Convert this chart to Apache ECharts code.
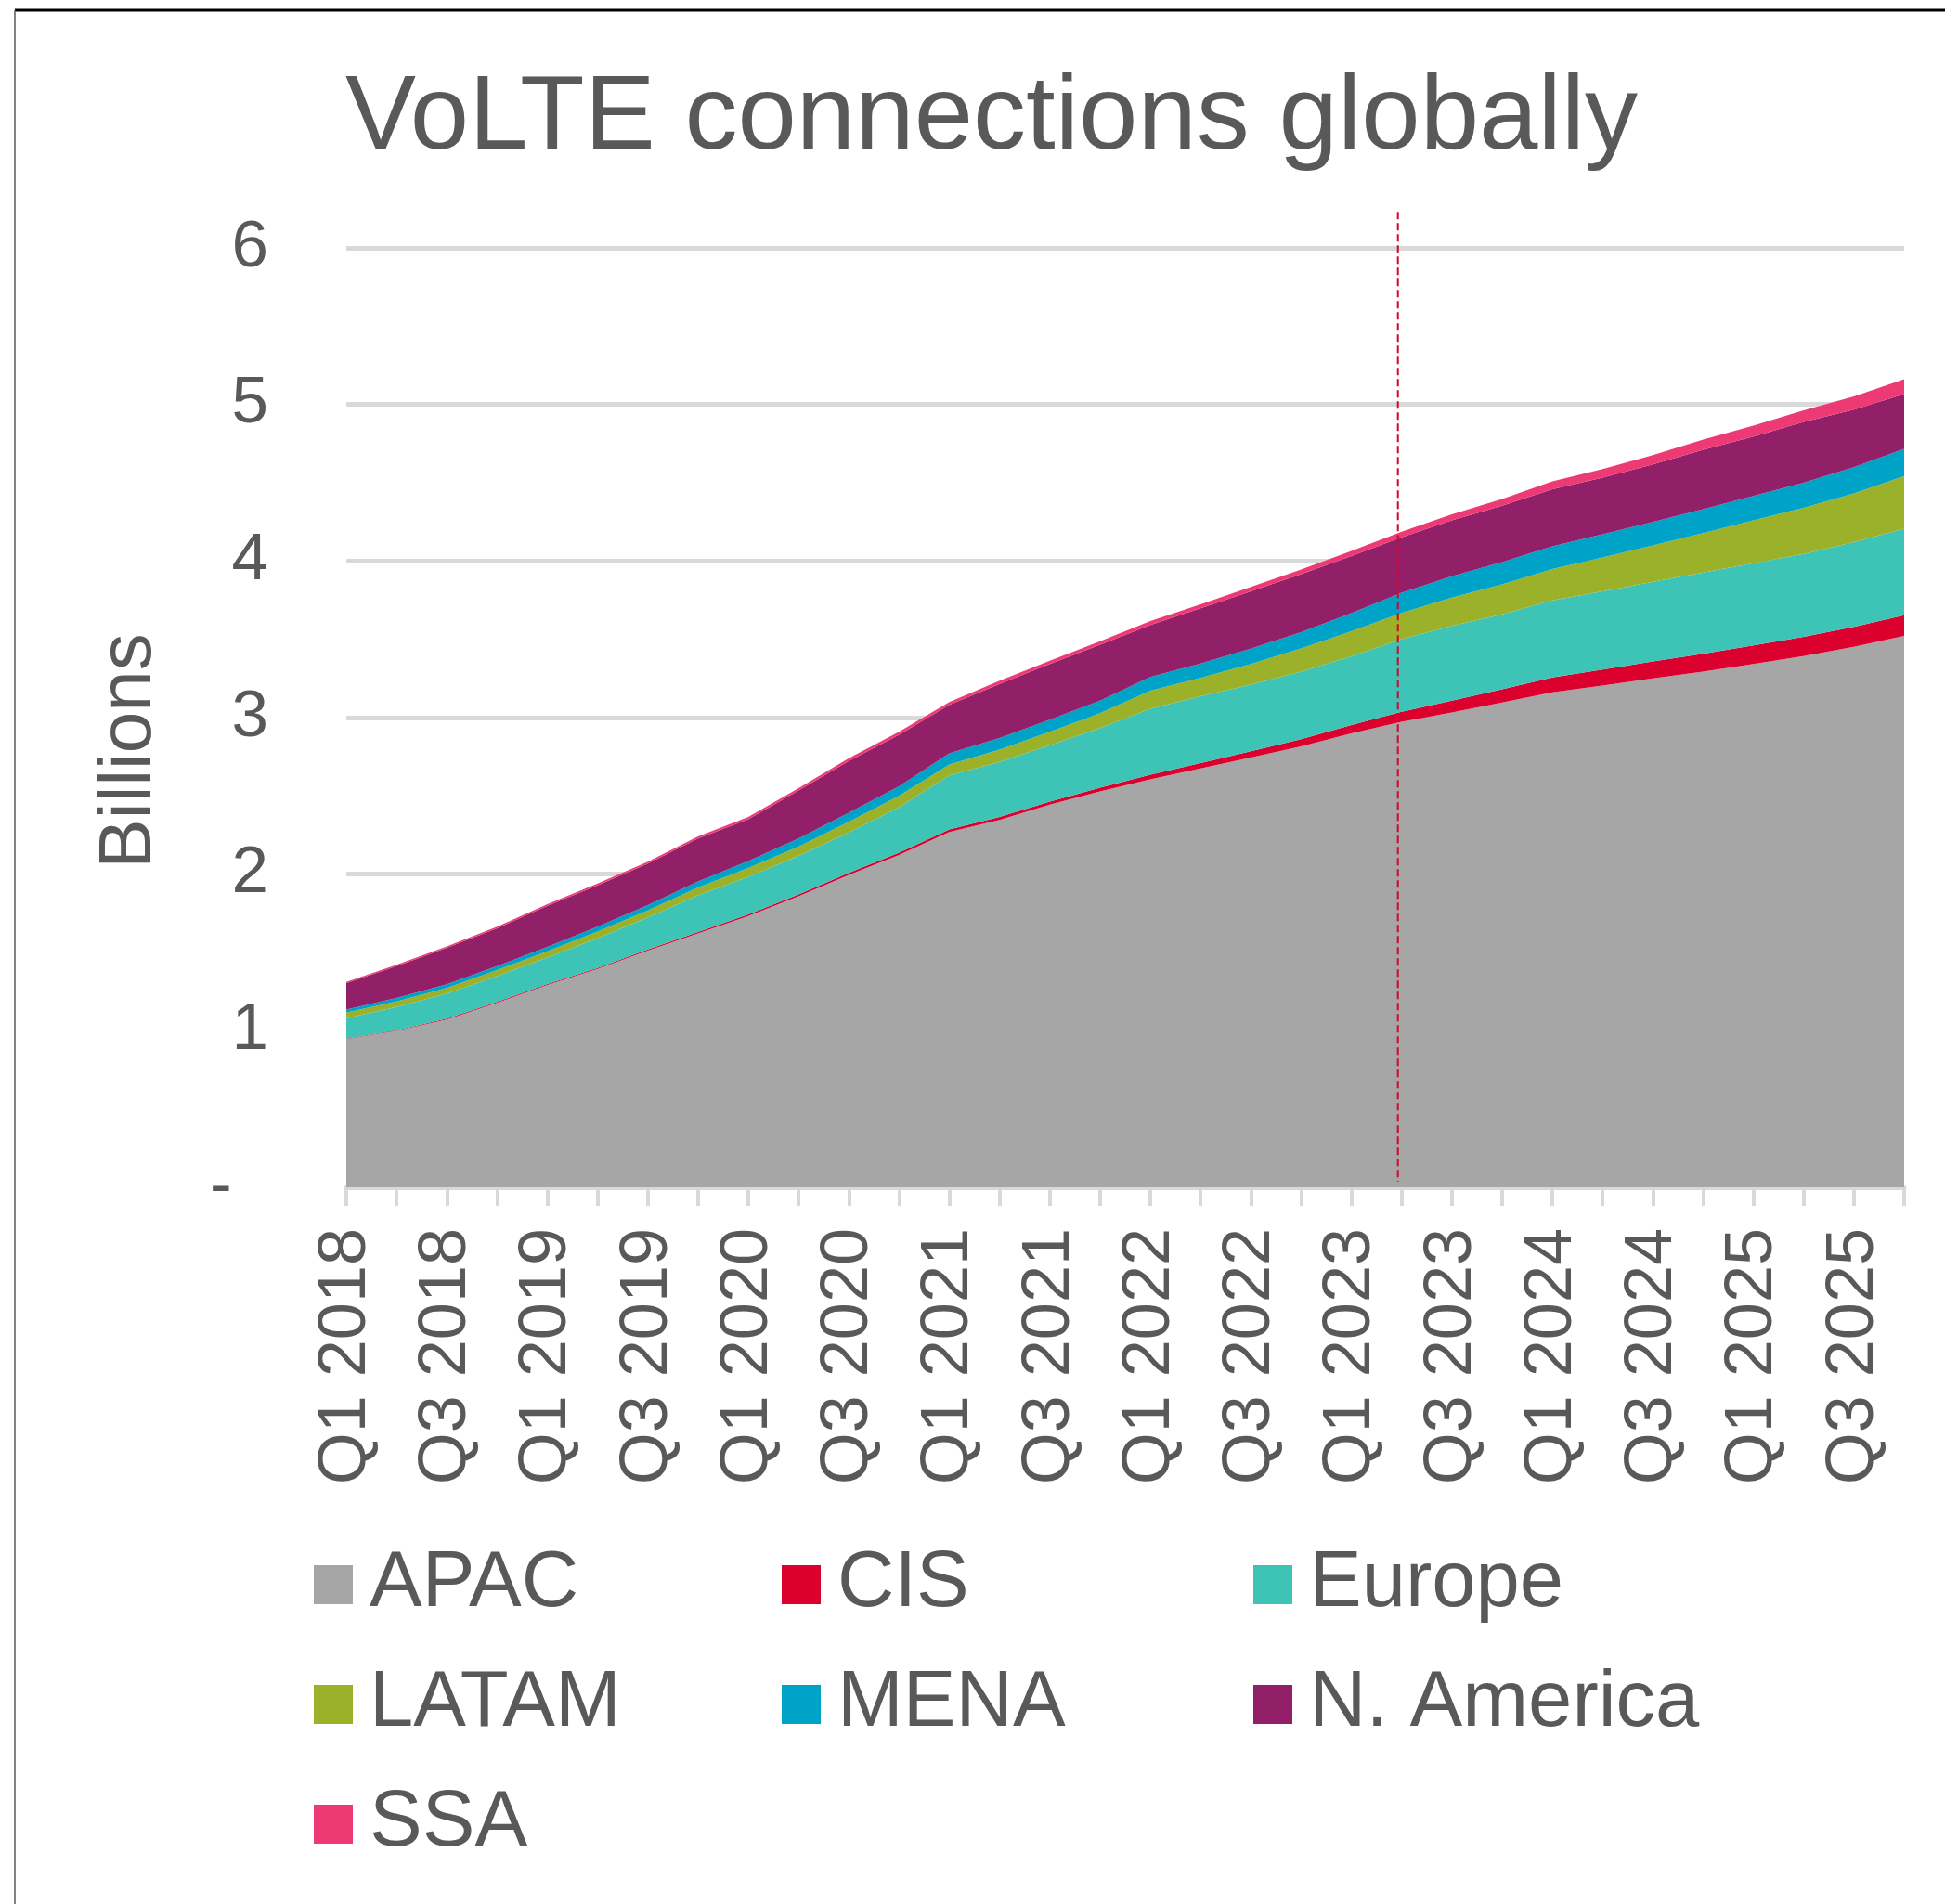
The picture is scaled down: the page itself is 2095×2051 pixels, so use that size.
<!DOCTYPE html>
<html>
<head>
<meta charset="utf-8">
<title>VoLTE connections globally</title>
<script src="https://cdn.jsdelivr.net/npm/echarts@6/dist/echarts.min.js"></script>
<style>
  html, body { margin: 0; padding: 0; background: #fff; }
  #main { width: 2095px; height: 2051px; }
</style>
</head>
<body>
<div id="main"></div>
<script>
const quarters = [
  'Q1 2018', 'Q2 2018', 'Q3 2018', 'Q4 2018', 'Q1 2019', 'Q2 2019', 'Q3 2019', 'Q4 2019',
  'Q1 2020', 'Q2 2020', 'Q3 2020', 'Q4 2020', 'Q1 2021', 'Q2 2021', 'Q3 2021', 'Q4 2021',
  'Q1 2022', 'Q2 2022', 'Q3 2022', 'Q4 2022', 'Q1 2023', 'Q2 2023', 'Q3 2023', 'Q4 2023',
  'Q1 2024', 'Q2 2024', 'Q3 2024', 'Q4 2024', 'Q1 2025', 'Q2 2025', 'Q3 2025', 'Q4 2025'
];

// billions of connections, per region
const apac = [0.947, 1.000, 1.072, 1.178, 1.292, 1.395, 1.512, 1.622, 1.733, 1.859, 1.995, 2.123, 2.270, 2.347, 2.444, 2.529,
  2.606, 2.675, 2.745, 2.816, 2.899, 2.974, 3.033, 3.096, 3.161, 3.205, 3.250, 3.294, 3.343, 3.393, 3.452, 3.521];
const cis = [0.003, 0.004, 0.005, 0.006, 0.006, 0.006, 0.007, 0.008, 0.010, 0.012, 0.014, 0.015, 0.016, 0.018, 0.020, 0.024,
  0.030, 0.035, 0.040, 0.046, 0.053, 0.063, 0.075, 0.085, 0.095, 0.102, 0.108, 0.113, 0.118, 0.123, 0.128, 0.132];
const europe = [0.131, 0.148, 0.160, 0.165, 0.170, 0.190, 0.205, 0.235, 0.240, 0.245, 0.257, 0.290, 0.345, 0.352, 0.360, 0.380,
  0.421, 0.426, 0.426, 0.432, 0.440, 0.464, 0.478, 0.478, 0.492, 0.500, 0.509, 0.519, 0.524, 0.529, 0.540, 0.554];
const latam = [0.035, 0.035, 0.036, 0.038, 0.040, 0.042, 0.045, 0.050, 0.056, 0.060, 0.068, 0.072, 0.070, 0.078, 0.085, 0.095,
  0.115, 0.118, 0.132, 0.148, 0.160, 0.168, 0.180, 0.192, 0.200, 0.216, 0.233, 0.253, 0.275, 0.295, 0.312, 0.336];
const mena = [0.020, 0.022, 0.024, 0.026, 0.028, 0.031, 0.034, 0.038, 0.045, 0.052, 0.058, 0.062, 0.070, 0.075, 0.078, 0.080,
  0.087, 0.092, 0.097, 0.103, 0.115, 0.128, 0.137, 0.142, 0.146, 0.148, 0.150, 0.152, 0.155, 0.160, 0.167, 0.173];
const nAmerica = [0.168, 0.204, 0.233, 0.241, 0.262, 0.265, 0.264, 0.275, 0.267, 0.306, 0.331, 0.329, 0.310, 0.345, 0.355, 0.357,
  0.333, 0.352, 0.367, 0.371, 0.365, 0.355, 0.357, 0.361, 0.365, 0.362, 0.367, 0.380, 0.380, 0.388, 0.368, 0.350];
const ssa = [0.008, 0.008, 0.009, 0.010, 0.010, 0.011, 0.012, 0.013, 0.014, 0.016, 0.017, 0.018, 0.019, 0.020, 0.021, 0.022,
  0.025, 0.026, 0.028, 0.030, 0.032, 0.035, 0.038, 0.042, 0.050, 0.055, 0.060, 0.065, 0.070, 0.075, 0.085, 0.095];

const regionNames = ['APAC', 'CIS', 'Europe', 'LATAM', 'MENA', 'N. America', 'SSA'];
const regionValues = [apac, cis, europe, latam, mena, nAmerica, ssa];
const regionColors = ['#a6a6a6', '#dc002e', '#3ec3b7', '#9cb12a', '#00a3c8', '#912068', '#ee3a74'];
const legendColumns = [['APAC', 'LATAM', 'SSA'], ['CIS', 'MENA'], ['Europe', 'N. America']];
const forecastStart = 'Q2 2023';

const font = 'Liberation Sans, Arial, sans-serif';
const textGrey = '#595959';
const lineGrey = '#d9d9d9';

const chart = echarts.init(document.getElementById('main'));

chart.setOption({
  backgroundColor: '#fff',
  animation: false,
  title: {
    text: 'VoLTE connections globally',
    left: 372,
    top: 72,
    padding: 0,
    textStyle: { fontFamily: font, fontSize: 114, fontWeight: 'normal', color: textGrey }
  },
  legend: legendColumns.map((names, k) => ({
    data: names,
    orient: 'vertical',
    left: [338, 842, 1350][k],
    top: 1662,
    padding: 0,
    itemGap: 39,
    itemWidth: 42,
    itemHeight: 42,
    icon: 'rect',
    selectedMode: false,
    itemStyle: { borderWidth: 0 },
    textStyle: { fontFamily: font, fontSize: 85, color: textGrey, lineHeight: 90, padding: [0, 0, 0, 13] }
  })),
  grid: { left: 373, right: 44, top: 267, bottom: 772, containLabel: false },
  xAxis: {
    type: 'category',
    data: quarters,
    boundaryGap: false,
    axisLine: { lineStyle: { color: lineGrey, width: 5 } },
    axisTick: { interval: 0, length: 20, lineStyle: { color: lineGrey, width: 4 } },
    axisLabel: {
      interval: 1,
      rotate: 90,
      margin: 44,
      fontFamily: font,
      fontSize: 72,
      color: textGrey
    }
  },
  yAxis: {
    type: 'value',
    min: 0,
    max: 6,
    interval: 1,
    name: 'Billions',
    nameLocation: 'middle',
    nameRotate: 90,
    nameGap: 193,
    nameTextStyle: { fontFamily: font, fontSize: 80, color: textGrey, padding: [0, 72, 0, 0] },
    axisLine: { show: false },
    axisTick: { show: false },
    splitLine: { lineStyle: { color: lineGrey, width: 5 } },
    axisLabel: {
      margin: 84,
      fontFamily: font,
      fontSize: 71,
      color: textGrey,
      formatter: v => (v === 0 ? '-  ' : String(v))
    }
  },
  series: regionNames.map((name, k) => ({
    name: name,
    type: 'line',
    stack: 'total',
    data: regionValues[k],
    symbol: 'none',
    color: regionColors[k],
    lineStyle: { width: 0 },
    itemStyle: { color: regionColors[k] },
    areaStyle: { color: regionColors[k], opacity: 1 },
    z: 2
  }))
});

// forecast divider and frame, positioned through the axes
const bottomPt = chart.convertToPixel({ gridIndex: 0 }, [forecastStart, 0]);
const topPt = chart.convertToPixel({ gridIndex: 0 }, [forecastStart, 6.23]);
chart.setOption({
  graphic: [
    {
      type: 'line',
      z: 10,
      shape: { x1: bottomPt[0] - 4, y1: topPt[1], x2: bottomPt[0] - 4, y2: bottomPt[1] - 6 },
      style: { stroke: '#dc002e', lineWidth: 2, lineDash: [8, 4] }
    },
    {
      type: 'line',
      z: 10,
      shape: { x1: 16, y1: 11, x2: 2095, y2: 11 },
      style: { stroke: '#000', lineWidth: 3 }
    },
    {
      type: 'line',
      z: 10,
      shape: { x1: 16, y1: 11, x2: 16, y2: 2051 },
      style: { stroke: '#595959', lineWidth: 1.5 }
    }
  ]
});
</script>
</body>
</html>
